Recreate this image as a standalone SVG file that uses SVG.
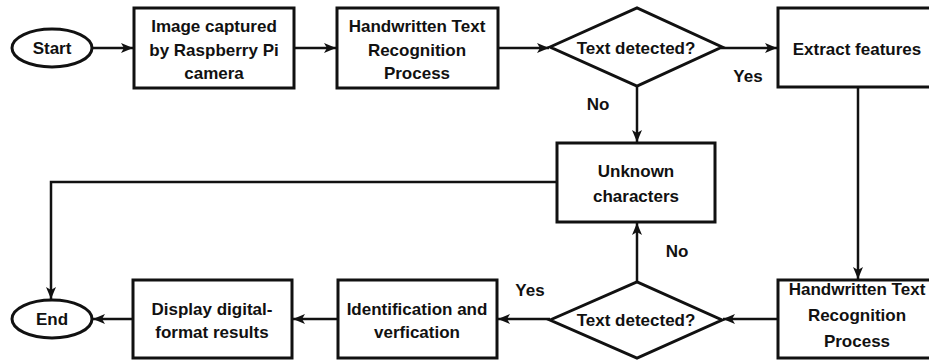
<svg xmlns="http://www.w3.org/2000/svg" width="929" height="361" viewBox="0 0 929 361">
<style>
.shape{fill:#fff;stroke:#111;stroke-width:3}
.t{font-family:"Liberation Sans",Arial,sans-serif;font-weight:bold;font-size:17px;fill:#111;text-anchor:middle}
.c{fill:none;stroke:#111;stroke-width:2.5}
</style>
<defs>
<marker id="arr" markerUnits="userSpaceOnUse" markerWidth="14" markerHeight="12" refX="12" refY="5" orient="auto">
<path d="M0,0 L12,5 L0,10 L3,5 z" fill="#111"/>
</marker>
</defs>
<rect width="929" height="361" fill="#fff"/>
<g id="connectors">
<line class="c" x1="92" y1="48" x2="133" y2="48" marker-end="url(#arr)"/>
<line class="c" x1="294" y1="48" x2="336" y2="48" marker-end="url(#arr)"/>
<line class="c" x1="498" y1="48" x2="549" y2="48" marker-end="url(#arr)"/>
<line class="c" x1="721" y1="48" x2="777" y2="48" marker-end="url(#arr)"/>
<line class="c" x1="858" y1="88" x2="858" y2="279" marker-end="url(#arr)"/>
<line class="c" x1="637" y1="86" x2="637" y2="142" marker-end="url(#arr)"/>
<polyline class="c" points="557,182 51,182 51,299" marker-end="url(#arr)"/>
<line class="c" x1="778" y1="319" x2="723" y2="319" marker-end="url(#arr)"/>
<line class="c" x1="550" y1="319" x2="498" y2="319" marker-end="url(#arr)"/>
<line class="c" x1="637" y1="282" x2="637" y2="223" marker-end="url(#arr)"/>
<line class="c" x1="338" y1="319" x2="293" y2="319" marker-end="url(#arr)"/>
<line class="c" x1="133" y1="319" x2="93" y2="319" marker-end="url(#arr)"/>
<text class="t" x="748" y="82">Yes</text>
<text class="t" x="598" y="110">No</text>
<text class="t" x="530" y="296">Yes</text>
<text class="t" x="677" y="257">No</text>
</g>
<g id="start">
<ellipse class="shape" cx="52" cy="48" rx="40" ry="19"/>
<text class="t" x="52" y="54">Start</text>
</g>
<g id="capture">
<rect class="shape" x="134" y="8" width="160" height="80"/>
<text class="t" x="214" y="32">Image captured</text>
<text class="t" x="214" y="56">by Raspberry Pi</text>
<text class="t" x="214" y="79">camera</text>
</g>
<g id="htr1">
<rect class="shape" x="337" y="8" width="161" height="80"/>
<text class="t" x="417" y="32">Handwritten Text</text>
<text class="t" x="417" y="56">Recognition</text>
<text class="t" x="417" y="79">Process</text>
</g>
<g id="decision1">
<polygon class="shape" points="550,47 637,8 722,47 637,86"/>
<text class="t" x="636" y="54">Text detected?</text>
</g>
<g id="extract">
<rect class="shape" x="778" y="8" width="160" height="79"/>
<text class="t" x="857" y="55">Extract features</text>
</g>
<g id="unknown">
<rect class="shape" x="557" y="143" width="158" height="79"/>
<text class="t" x="636" y="177">Unknown</text>
<text class="t" x="636" y="202">characters</text>
</g>
<g id="htr2">
<rect class="shape" x="778" y="280" width="160" height="78"/>
<text class="t" x="857" y="295">Handwritten Text</text>
<text class="t" x="857" y="321">Recognition</text>
<text class="t" x="857" y="347">Process</text>
</g>
<g id="decision2">
<polygon class="shape" points="550,320 637,282 722,320 637,358"/>
<text class="t" x="636" y="326">Text detected?</text>
</g>
<g id="identify">
<rect class="shape" x="338" y="280" width="159" height="78"/>
<text class="t" x="417" y="315">Identification and</text>
<text class="t" x="417" y="338">verfication</text>
</g>
<g id="display">
<rect class="shape" x="133" y="280" width="159" height="78"/>
<text class="t" x="212" y="315">Display digital-</text>
<text class="t" x="212" y="338">format results</text>
</g>
<g id="end">
<ellipse class="shape" cx="52" cy="319" rx="40" ry="19"/>
<text class="t" x="52" y="325">End</text>
</g>
</svg>
